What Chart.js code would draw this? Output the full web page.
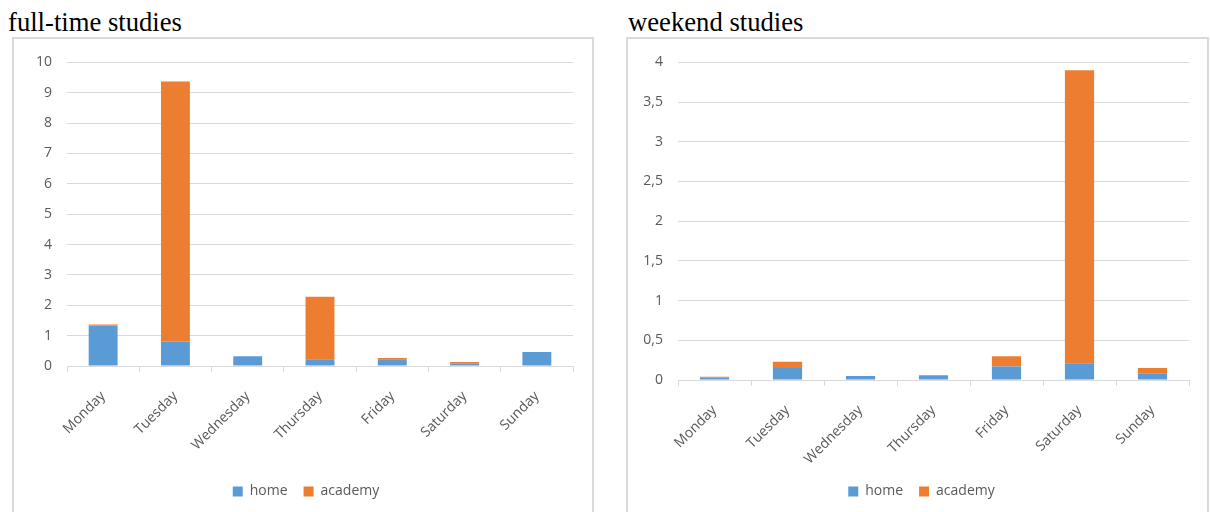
<!DOCTYPE html>
<html>
<head>
<meta charset="utf-8">
<script src="https://cdn.jsdelivr.net/npm/chart.js@4.4.0/dist/chart.umd.min.js"></script>
<style>
  html, body { margin: 0; padding: 0; background: #ffffff; }
  body { width: 1210px; height: 512px; position: relative; overflow: hidden; }
  .title {
    position: absolute; top: 9px;
    font-family: "Liberation Serif", "Times New Roman", serif;
    font-size: 26.67px; line-height: 1; color: #000;
    white-space: nowrap;
  }
  .box {
    position: absolute; top: 37px; height: 520px;
    border: 2px solid #d9d9d9; background: #fff;
  }
  .box canvas { position: absolute; left: 0; top: 0; }
</style>
</head>
<body>
<div class="title" style="left:8px">full-time studies</div>
<div class="title" style="left:628px">weekend studies</div>
<div class="box" style="left:12px; width:578px;"><canvas id="fullTime" width="578" height="473"></canvas></div>
<div class="box" style="left:626px; width:579px;"><canvas id="weekend" width="579" height="473"></canvas></div>
<script>
// Days of the week shared by both charts
const days = ['Monday', 'Tuesday', 'Wednesday', 'Thursday', 'Friday', 'Saturday', 'Sunday'];

// Full-time studies: hours per day
const fullHome    = [1.33, 0.81, 0.32, 0.22, 0.22, 0.07, 0.46];
const fullAcademy = [0.04, 8.56, 0,    2.06, 0.04, 0.06, 0];

// Weekend studies: hours per day
const weekendHome    = [0.03, 0.15, 0.05, 0.06, 0.17, 0.21, 0.08];
const weekendAcademy = [0.01, 0.08, 0,    0,    0.13, 3.69, 0.07];

// Value-axis tick labels (decimal comma)
const fullTicks    = ['0', '1', '2', '3', '4', '5', '6', '7', '8', '9', '10'];
const weekendTicks = ['0', '0,5', '1', '1,5', '2', '2,5', '3', '3,5', '4'];

const BLUE = '#5B9BD5';
const ORANGE = '#ED7D31';
const TEXT = '#595959';
const GRID = '#d9d9d9';
const FONT = { family: '"Open Sans", "Liberation Sans", sans-serif', size: 14 };

// Centres the legend under the whole chart frame rather than the padded layout box
const legendShift = {
  id: 'legendShift',
  afterLayout(chart, args, opts) {
    const lg = chart.legend;
    if (lg && opts.dx) { lg.left += opts.dx; lg.right += opts.dx; }
  }
};

function makeChart(id, home, academy, yMax, yStep, tickLabels, dims) {
  return new Chart(document.getElementById(id), {
    type: 'bar',
    data: {
      labels: days,
      datasets: [
        { label: 'home', data: home, backgroundColor: BLUE, borderWidth: 0 },
        { label: 'academy', data: academy, backgroundColor: ORANGE, borderWidth: 0 }
      ]
    },
    plugins: [legendShift],
    options: {
      responsive: false,
      animation: false,
      devicePixelRatio: 1,
      layout: { padding: { left: 0, right: dims.padRight, top: 19, bottom: 3.5 } },
      datasets: { bar: { categoryPercentage: 1, barPercentage: 0.4 } },
      plugins: {
        tooltip: { enabled: false },
        legendShift: { dx: dims.legendDx },
        legend: {
          position: 'bottom',
          labels: { boxWidth: 10, boxHeight: 10, padding: 16, color: TEXT, font: FONT }
        }
      },
      scales: {
        x: {
          stacked: true,
          grid: { display: true, drawOnChartArea: false, drawTicks: true, tickLength: 6, color: GRID, offset: true },
          border: { display: true, color: GRID, width: 1 },
          ticks: { color: TEXT, font: FONT, minRotation: 45, maxRotation: 45, autoSkip: false, padding: 16 },
          afterFit: (scale) => { scale.height = dims.xHeight; }
        },
        y: {
          stacked: true,
          min: 0, max: yMax,
          grid: { color: GRID, lineWidth: 1, drawTicks: false },
          border: { display: false },
          ticks: {
            stepSize: yStep, color: TEXT, font: FONT, padding: 15,
            callback: (value, index) => tickLabels[index]
          },
          afterFit: (scale) => { scale.width = dims.yWidth; }
        }
      }
    }
  });
}

makeChart('fullTime', fullHome, fullAcademy, 10, 1, fullTicks,
  { padRight: 19, yWidth: 53, xHeight: 102.5, legendDx: 12.5 });
makeChart('weekend', weekendHome, weekendAcademy, 4, 0.5, weekendTicks,
  { padRight: 18, yWidth: 50, xHeight: 88.5, legendDx: 13 });
</script>
</body>
</html>
